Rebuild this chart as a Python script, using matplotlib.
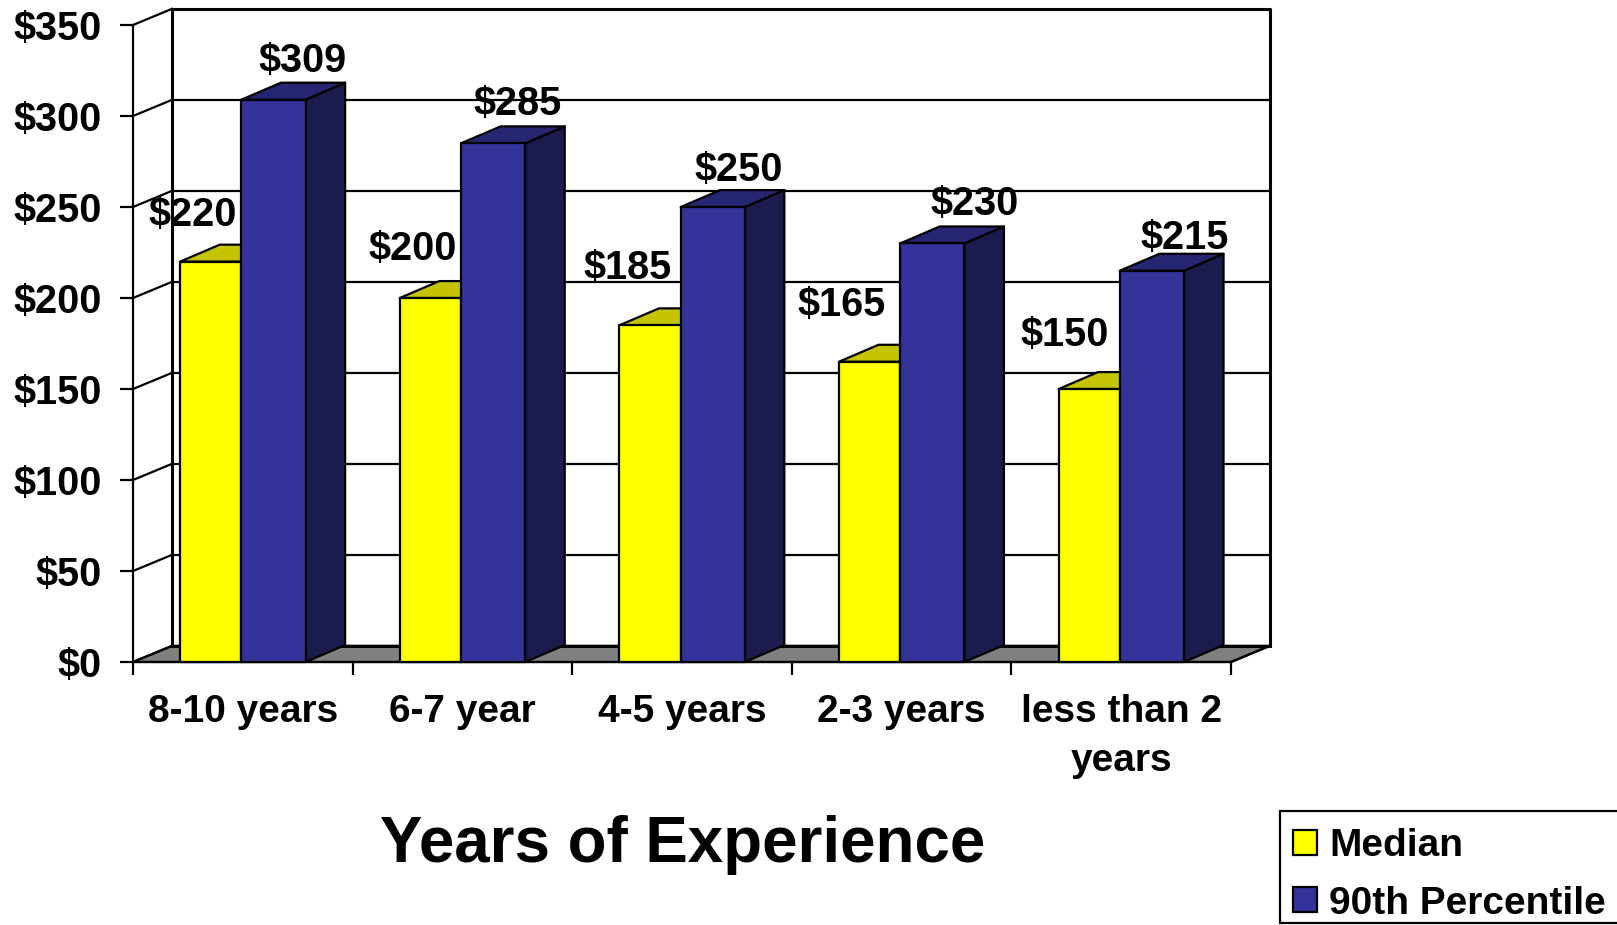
#!/usr/bin/env python3
"""Median and 90th percentile pay by years of experience, PowerPoint style 3D columns."""

import matplotlib
matplotlib.use('Agg')
import matplotlib.pyplot as plt
from matplotlib.patches import Patch, Rectangle

categories = ['8-10 years', '6-7 year', '4-5 years', '2-3 years', 'less than 2\nyears']
median = [220, 200, 185, 165, 150]
percentile_90 = [309, 285, 250, 230, 215]
y_ticks = [0, 50, 100, 150, 200, 250, 300, 350]

# label nudges in pixels from the centre of the column's front face
median_offsets = [(-18, 47), (-18, 49), (-22, 57), (-28, 57), (-25, 54)]
p90_offsets = [(29, 39), (24, 39), (26, 37), (42, 39), (33, 33)]

W, H = 1617, 925
DPI = 100
LEFT, RIGHT, TOP, BOTTOM = 133, 1231, 25, 662

WALL_DX, WALL_DY = 0.178, 8.9     # back wall offset, in data units
BAR_DX, BAR_DY = 0.18, 9.3        # column depth, in data units
YEL_L, YEL_R, BLU_R = 0.215, 0.494, 0.786
LW = 1.6

plt.rcParams['font.family'] = ['Liberation Sans', 'DejaVu Sans']
plt.rcParams['font.weight'] = 'bold'


def column(ax, x0, x1, val, face, top, side, z):
    """Front, top and side of one oblique column."""
    style = dict(edgecolor='k', lw=LW, clip_on=False, zorder=z, joinstyle='round')
    ax.fill([x1, x1 + BAR_DX, x1 + BAR_DX, x1],
            [0, BAR_DY, val + BAR_DY, val], facecolor=side, **style)
    ax.fill([x0, x1, x1 + BAR_DX, x0 + BAR_DX],
            [val, val, val + BAR_DY, val + BAR_DY], facecolor=top, **style)
    ax.fill([x0, x1, x1, x0], [0, 0, val, val], facecolor=face, **style)


def main():
    fig = plt.figure(figsize=(W / DPI, H / DPI), dpi=DPI)
    ax = fig.add_axes([LEFT / W, 1 - BOTTOM / H, (RIGHT - LEFT) / W, (BOTTOM - TOP) / H])
    n = len(categories)
    ymax = y_ticks[-1]
    ax.set_xlim(0, n)
    ax.set_ylim(0, ymax)
    ax.patch.set_visible(False)

    for s in ('top', 'right'):
        ax.spines[s].set_visible(False)
    for s in ('left', 'bottom'):
        ax.spines[s].set_linewidth(LW)

    # floor
    ax.fill([0, n, n + WALL_DX, WALL_DX], [0, 0, WALL_DY, WALL_DY],
            facecolor='#808080', edgecolor='k', lw=LW, clip_on=False, zorder=1)

    # back wall and grid
    ax.plot([WALL_DX, WALL_DX, n + WALL_DX, n + WALL_DX],
            [WALL_DY, ymax + WALL_DY, ymax + WALL_DY, WALL_DY],
            color='k', lw=2.2, clip_on=False, zorder=1)
    ax.plot([WALL_DX, n + WALL_DX], [WALL_DY, WALL_DY], color='k', lw=2.2,
            clip_on=False, zorder=1)
    for t in y_ticks[1:-1]:
        ax.plot([WALL_DX, n + WALL_DX], [t + WALL_DY, t + WALL_DY], color='k', lw=LW,
                clip_on=False, zorder=1)
    for t in y_ticks:
        ax.plot([0, WALL_DX], [t, t + WALL_DY], color='k', lw=LW, clip_on=False, zorder=1)
    ax.plot([n, n + WALL_DX], [0, WALL_DY], color='k', lw=LW, clip_on=False, zorder=1)

    for i in range(n):
        z = 3 + i
        column(ax, i + YEL_L, i + YEL_R, median[i], '#FFFF00', '#C4C400', '#8C8C00', z)
        column(ax, i + YEL_R, i + BLU_R, percentile_90[i], '#333399', '#262673', '#1B1B4D', z + 0.5)
        ax.annotate(f'${median[i]}', (i + (YEL_L + YEL_R) / 2, median[i]),
                    xytext=(median_offsets[i][0] * 72 / DPI, median_offsets[i][1] * 72 / DPI),
                    textcoords='offset points', ha='center', va='center',
                    fontsize=28.5, annotation_clip=False, zorder=20)
        ax.annotate(f'${percentile_90[i]}', (i + (YEL_R + BLU_R) / 2, percentile_90[i]),
                    xytext=(p90_offsets[i][0] * 72 / DPI, p90_offsets[i][1] * 72 / DPI),
                    textcoords='offset points', ha='center', va='center',
                    fontsize=28.5, annotation_clip=False, zorder=20)

    ax.set_yticks(y_ticks)
    ax.set_yticklabels([f'${t}' for t in y_ticks], fontsize=28.5)
    ax.tick_params(axis='y', length=9.4, width=LW, pad=13)
    ax.set_xticks(range(n + 1))
    ax.set_xticklabels([])
    ax.tick_params(axis='x', which='major', length=9.4, width=LW)
    ax.set_xticks([i + 0.5 for i in range(n)], minor=True)
    ax.set_xticklabels(categories, minor=True, fontsize=28, linespacing=1.46)
    ax.tick_params(axis='x', which='minor', length=0, pad=23)

    fig.text(683 / W, 1 - 845 / H, 'Years of Experience', ha='center', va='center', fontsize=45.8)

    # legend box runs off the right edge of the picture, so it is drawn by hand
    fig.add_artist(Rectangle((1280 / W, 1 - 923 / H), 400 / W, 112 / H, transform=fig.transFigure,
                             facecolor='white', edgecolor='k', lw=LW))
    handles = [Patch(facecolor='#FFFF00', edgecolor='k', lw=LW, label='Median'),
               Patch(facecolor='#333399', edgecolor='k', lw=LW, label='90th Percentile')]
    fig.legend(handles=handles, loc='lower left', bbox_to_anchor=(1281 / W, 1 - 934 / H),
               borderaxespad=0, fontsize=28, frameon=False,
               handlelength=0.6, handleheight=0.6, handletextpad=0.32,
               borderpad=0.32, labelspacing=0.55)

    fig.savefig('out.png', dpi=DPI)


if __name__ == '__main__':
    main()
